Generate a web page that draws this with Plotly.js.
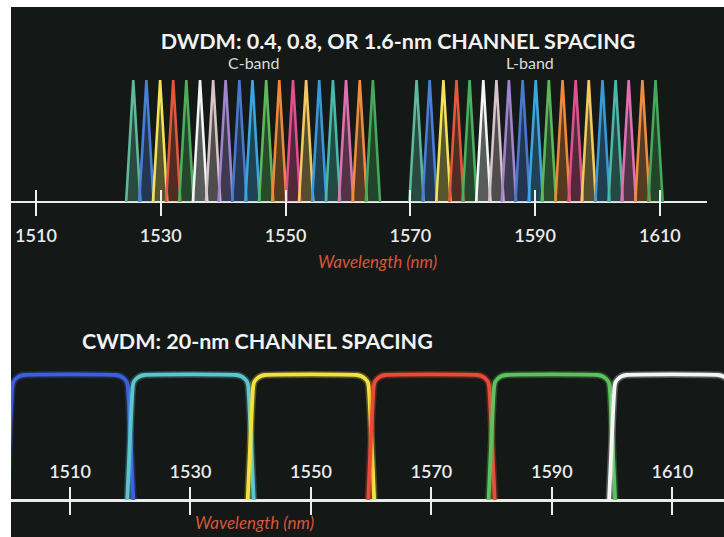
<!DOCTYPE html>
<html>
<head>
<meta charset="utf-8">
<script src="https://cdn.plot.ly/plotly-3.0.1.min.js"></script>
<style>
  html, body { margin: 0; padding: 0; background: #ffffff; }
  #chart { position: absolute; left: 11px; top: 7px; width: 713px; height: 530px; }
</style>
</head>
<body>
<div id="chart"></div>
<script>
// ---- DATA ----
const dwdmTicks = [1510, 1530, 1550, 1570, 1590, 1610];
const cwdmTicks = [1510, 1530, 1550, 1570, 1590, 1610];

const cBandCenters = [1525.6, 1527.7, 1529.9, 1532.0, 1534.1, 1536.3, 1538.4, 1540.4, 1542.6, 1544.7,
                      1546.9, 1549.0, 1551.2, 1553.3, 1555.4, 1557.6, 1559.7, 1561.9, 1564.0];
const lBandCenters = [1571.0, 1573.1, 1575.3, 1577.4, 1579.5, 1581.7, 1583.8, 1585.8, 1588.0, 1590.1,
                      1592.2, 1594.4, 1596.5, 1598.6, 1600.8, 1602.9, 1605.0, 1607.2, 1609.3];
const peakLevel = [1, 1, 1, 1, 1, 1, 1, 1, 1, 1, 1, 1, 1, 1, 1, 1, 1, 1, 1];
const peakColors = ['#5fb89a', '#4a7fd6', '#f2e25a', '#e2583c', '#4caf5c', '#f4f4f4', '#d6c4c8',
                    '#a084cc', '#4a78d0', '#3aa6e0', '#5cb85a', '#f0883a', '#e0508e', '#f2c860',
                    '#3a98d8', '#4ab8a8', '#e070b0', '#ee8c40', '#46a85a'];

const cwdmCenters = [1510, 1530, 1550, 1570, 1590, 1610];
const cwdmColors = ['#3d5fe0', '#5cc6cf', '#f2e23e', '#ea4a36', '#5cc25e', '#f5f5f5'];
const filterOffsets = [-10.5, -9.6, -9.45, -9.0, -8.4, -7.6, 7.6, 8.4, 9.0, 9.45, 9.6, 10.5];
const filterLevels  = [0, 0.9, 0.94, 0.97, 0.99, 1, 1, 0.99, 0.97, 0.94, 0.9, 0];

// ---- STYLE ----
const BG = '#141917';
const FONT = 'Lato, "Open Sans", sans-serif';
const peakHalf = 1.15;

function rgba(hex, a) {
  const n = parseInt(hex.slice(1), 16);
  return 'rgba(' + ((n >> 16) & 255) + ',' + ((n >> 8) & 255) + ',' + (n & 255) + ',' + a + ')';
}

const traces = [];
[cBandCenters, lBandCenters].forEach(function (band) {
  band.forEach(function (c, i) {
    const col = peakColors[i % peakColors.length];
    traces.push({
      type: 'scatter', mode: 'lines', xaxis: 'x', yaxis: 'y',
      x: [c - peakHalf, c, c + peakHalf], y: [0, peakLevel[i], 0],
      fill: 'toself', fillcolor: rgba(col, 0.3),
      line: { color: col, width: 2.6 }, hoverinfo: 'skip'
    });
  });
});

cwdmCenters.forEach(function (c, i) {
  const xs = filterOffsets.map(function (o) { return c + o; });
  traces.push({
    type: 'scatter', mode: 'lines', xaxis: 'x2', yaxis: 'y2',
    x: xs, y: filterLevels, line: { color: rgba(cwdmColors[i], 0.28), width: 7, shape: 'spline', smoothing: 0.5 },
    hoverinfo: 'skip'
  });
  traces.push({
    type: 'scatter', mode: 'lines', xaxis: 'x2', yaxis: 'y2',
    x: xs, y: filterLevels, line: { color: cwdmColors[i], width: 3.8, shape: 'spline', smoothing: 0.5 },
    hoverinfo: 'skip'
  });
});

const W = 713, H = 530;
const px = function (x) { return (x - 11) / W; };
const py = function (y) { return 1 - (y - 7) / H; };

const tickFont = { family: FONT, size: 18, color: '#ececec', weight: 600 };
const layout = {
  width: W, height: H,
  paper_bgcolor: BG, plot_bgcolor: BG,
  margin: { l: 0, r: 0, t: 0, b: 0 },
  showlegend: false, hovermode: false,
  title: {
    text: 'DWDM: 0.4, 0.8, OR 1.6-nm CHANNEL SPACING',
    font: { family: FONT, size: 21.5, color: '#f2f2f2', weight: 'bold' },
    xref: 'container', yref: 'container', x: px(398), xanchor: 'center', y: py(41), yanchor: 'middle'
  },
  xaxis: {
    domain: [0, 696 / W], range: [1506.0, 1617.55], anchor: 'y',
    tickvals: dwdmTicks, ticks: 'inside', ticklen: 26, tickwidth: 2, tickcolor: '#efefef',
    tickfont: tickFont, ticklabelstandoff: 7,
    showgrid: false, zeroline: false, showline: false, fixedrange: true
  },
  yaxis: {
    domain: [py(216), py(74)], range: [-0.1148, 1.049], anchor: 'x',
    showgrid: false, zeroline: true, zerolinecolor: '#ebebeb', zerolinewidth: 2.5,
    showticklabels: false, ticks: '', fixedrange: true
  },
  xaxis2: {
    domain: [0, 1], range: [1500.2, 1618.58], anchor: 'free', position: py(486), side: 'top',
    tickvals: cwdmTicks, ticks: 'inside', ticklen: 28, tickwidth: 2, tickcolor: '#efefef',
    tickfont: tickFont, ticklabelstandoff: 4,
    showgrid: false, zeroline: false, showline: false, fixedrange: true
  },
  yaxis2: {
    domain: [py(514), py(365)], range: [-0.112, 1.08], anchor: 'x2',
    showgrid: false, zeroline: true, zerolinecolor: '#ebebeb', zerolinewidth: 3,
    showticklabels: false, ticks: '', fixedrange: true
  },
  annotations: [
    { text: 'C-band', xref: 'paper', yref: 'paper', x: px(253), y: py(63), xanchor: 'center', yanchor: 'middle',
      showarrow: false, font: { family: FONT, size: 16, color: '#dcdcdc' } },
    { text: 'L-band', xref: 'paper', yref: 'paper', x: px(530), y: py(63), xanchor: 'center', yanchor: 'middle',
      showarrow: false, font: { family: FONT, size: 16, color: '#dcdcdc' } },
    { text: '<i>Wavelength (nm)</i>', xref: 'paper', yref: 'paper', x: px(378), y: py(261), xanchor: 'center', yanchor: 'middle',
      showarrow: false, font: { family: FONT, size: 17, color: '#d8553a' } },
    { text: '<b>CWDM: 20-nm CHANNEL SPACING</b>', xref: 'paper', yref: 'paper', x: px(80), y: py(341), xanchor: 'left', yanchor: 'middle',
      showarrow: false, font: { family: FONT, size: 21.5, color: '#f2f2f2' } },
    { text: '<i>Wavelength (nm)</i>', xref: 'paper', yref: 'paper', x: px(254), y: py(522), xanchor: 'center', yanchor: 'middle',
      showarrow: false, font: { family: FONT, size: 17, color: '#d8553a' } }
  ]
};

Plotly.newPlot('chart', traces, layout, { displayModeBar: false, staticPlot: true });
</script>
</body>
</html>
